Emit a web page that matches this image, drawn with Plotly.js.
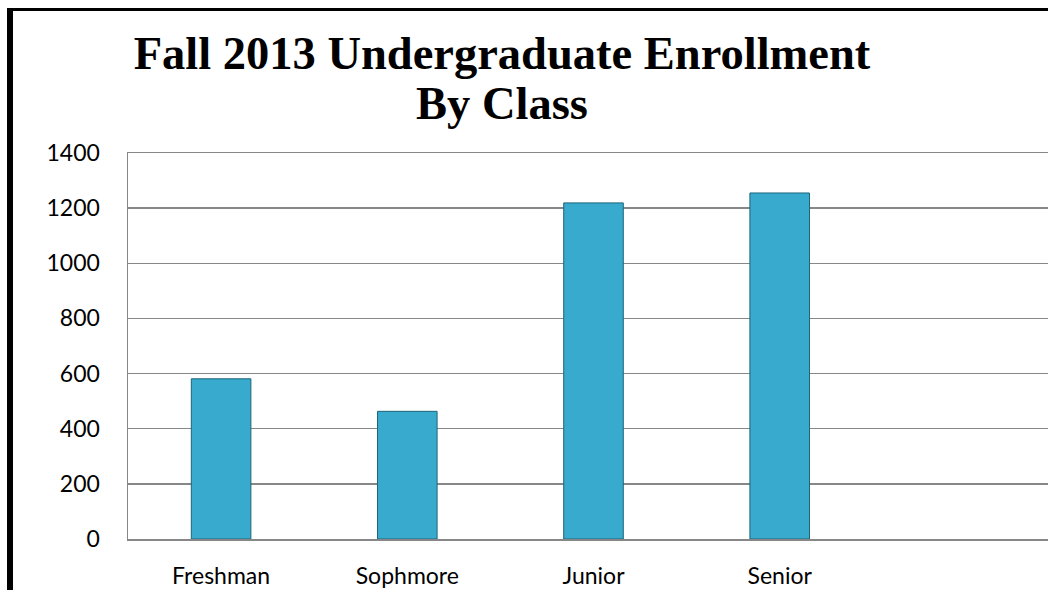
<!DOCTYPE html>
<html>
<head>
<meta charset="utf-8">
<script src="https://cdn.plot.ly/plotly-3.0.1.min.js"></script>
<style>
html,body{margin:0;padding:0;overflow:hidden;background:#fff;width:1048px;height:590px;}
#chart{position:absolute;left:7px;top:8px;border-left:6px solid #000;border-top:3px solid #000;width:1066px;height:620px;}
</style>
</head>
<body>
<div id="chart"></div>
<script>
var categories = ["Freshman", "Sophmore", "Junior", "Senior", " "];
var enrollment = [581, 463, 1219, 1255, null];
var yTicks = [0, 200, 400, 600, 800, 1000, 1200, 1400];
var titleLine1 = "Fall 2013 Undergraduate Enrollment";
var titleLine2 = "By Class";

var trace = {
  type: "bar",
  x: categories,
  y: enrollment,
  marker: {color: "#37AACE", line: {color: "#1D6579", width: 1}},
  hoverinfo: "x+y"
};

var titleFont = {family: "Liberation Serif, DejaVu Serif, serif", size: 46.5, color: "#000"};
var tickFont = {family: "Lato, Open Sans, sans-serif", size: 23, color: "#000"};

var layout = {
  width: 1066,
  height: 620,
  margin: {l: 115, r: 20, t: 142, b: 92},
  paper_bgcolor: "#ffffff",
  plot_bgcolor: "#ffffff",
  bargap: 0.68,
  showlegend: false,
  title: {
    text: "<b>" + titleLine1 + "</b>",
    font: titleFont,
    x: 0.4017, xanchor: "center", xref: "paper",
    y: 0.932, yanchor: "middle", yref: "container"
  },
  annotations: [{
    text: "<b>" + titleLine2 + "</b>",
    font: titleFont,
    xref: "paper", yref: "paper",
    x: 0.4017, xanchor: "center",
    y: 1.128, yanchor: "middle",
    showarrow: false
  }],
  xaxis: {
    type: "category",
    range: [-0.5, 4.5],
    showgrid: false,
    showline: true, mirror: true, linecolor: "#878787", linewidth: 1.5,
    ticks: "",
    ticklabelstandoff: 16,
    tickfont: tickFont,
    fixedrange: true
  },
  yaxis: {
    range: [0, 1400],
    tickvals: yTicks,
    ticktext: yTicks.map(String),
    showgrid: true, gridcolor: "#878787", gridwidth: 1.5,
    showline: true, linecolor: "#878787", linewidth: 1.5,
    zeroline: false,
    ticks: "",
    ticklabelstandoff: 22,
    tickfont: tickFont,
    fixedrange: true
  }
};

Plotly.newPlot("chart", [trace], layout, {displayModeBar: false, staticPlot: true});
</script>
</body>
</html>
